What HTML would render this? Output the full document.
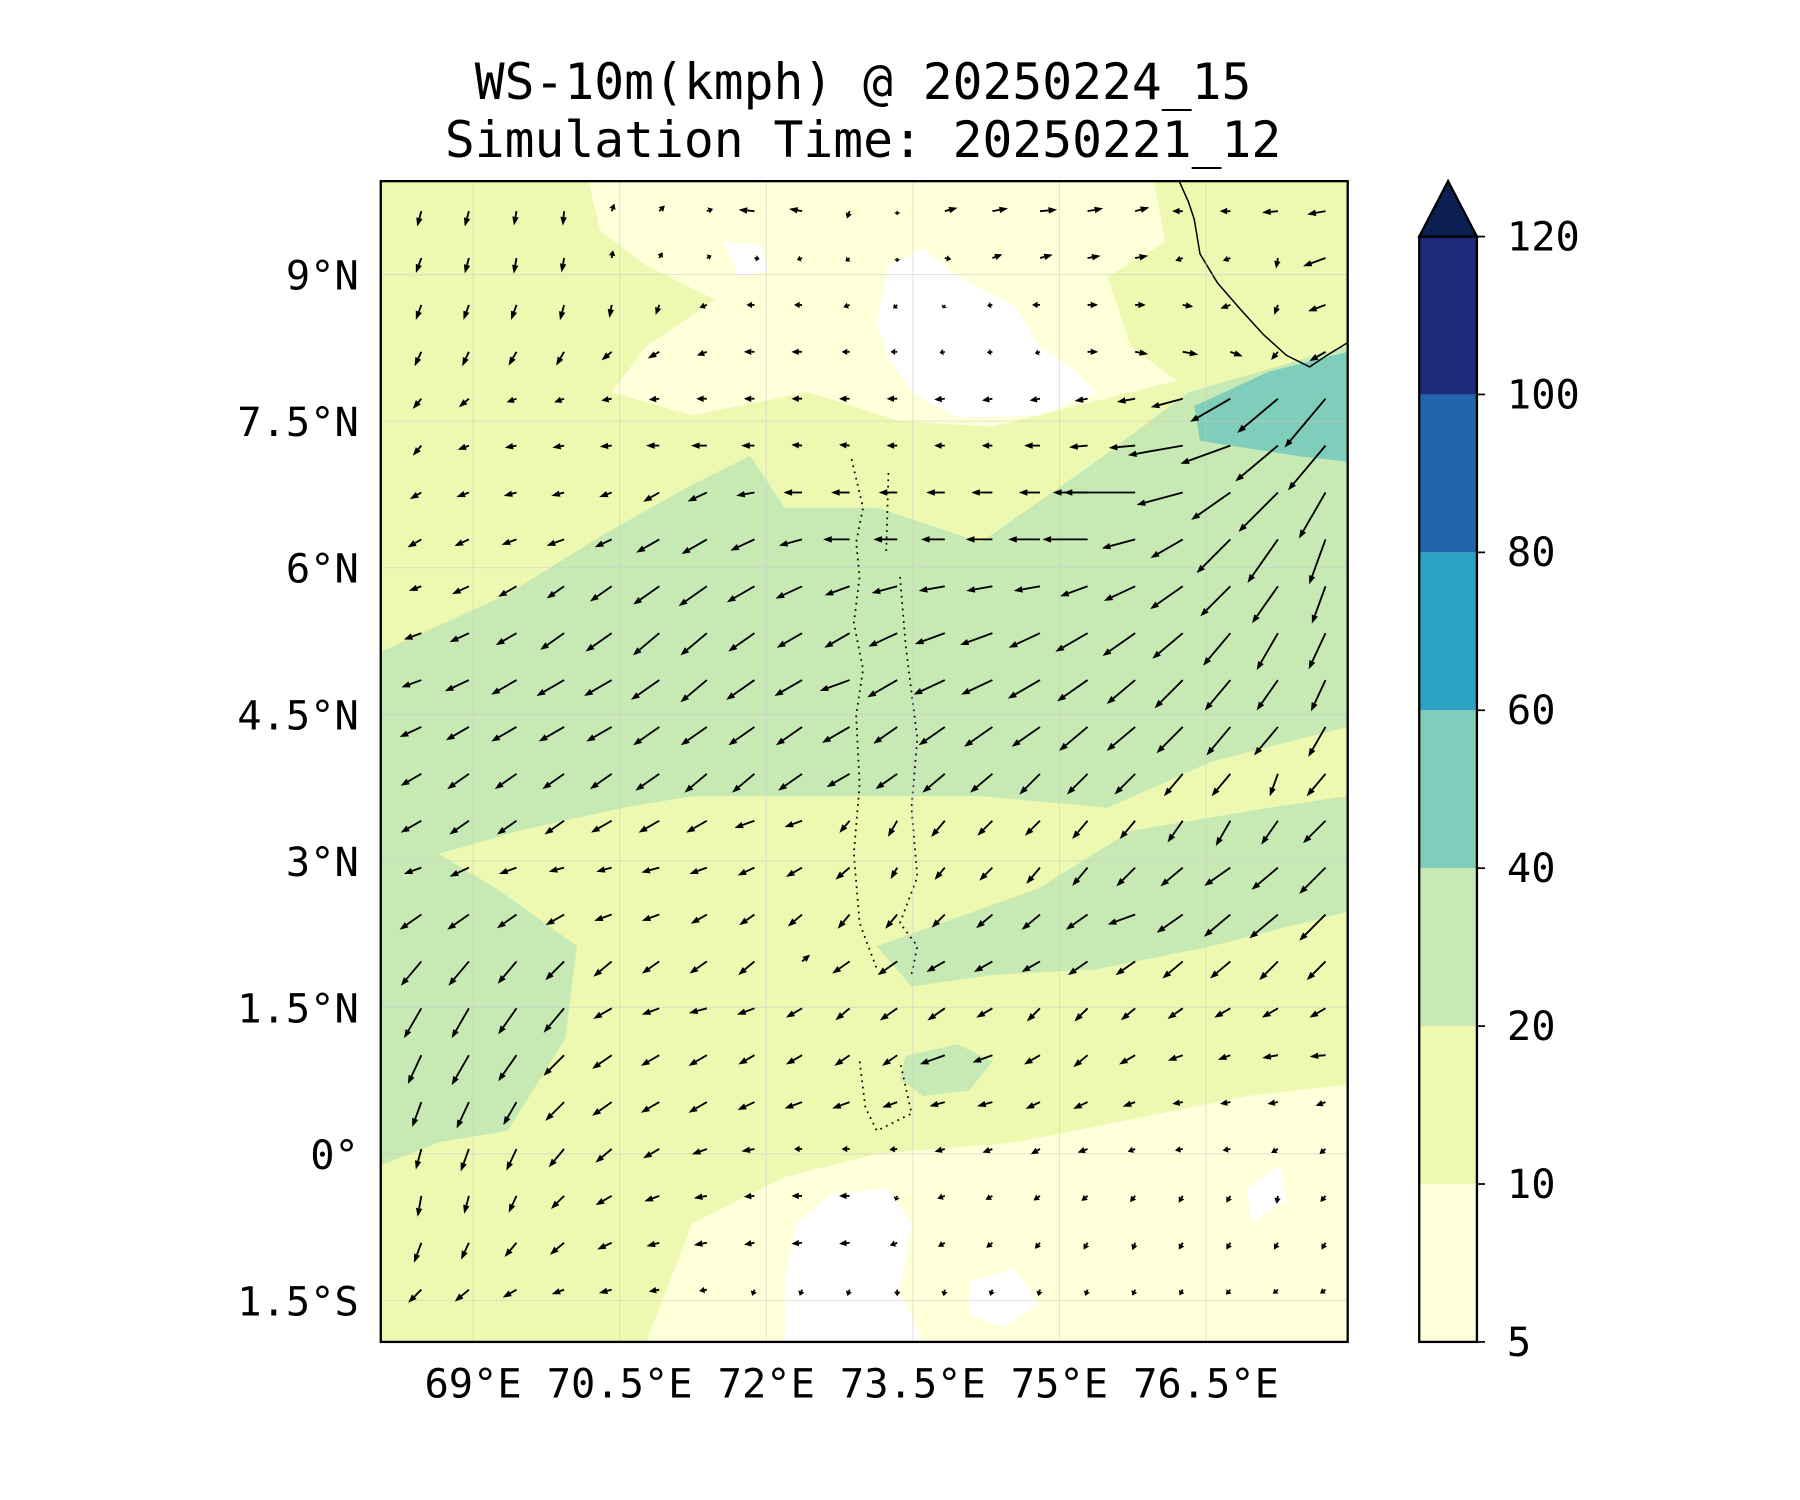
<!DOCTYPE html>
<html><head><meta charset="utf-8"><title>WS-10m</title>
<style>html,body{margin:0;padding:0;background:#fff}svg{display:block}text{font-family:"DejaVu Sans Mono","Liberation Mono",monospace;fill:#000}</style></head>
<body>
<svg id="chart" xmlns="http://www.w3.org/2000/svg" width="1800" height="1500" viewBox="0 0 1560 1300">
<text x="748" y="86" font-size="43" text-anchor="middle">WS-10m(kmph) @ 20250224_15</text>
<text x="748" y="136" font-size="43" text-anchor="middle">Simulation Time: 20250221_12</text>
<defs><clipPath id="clip"><rect x="330" y="157" width="838" height="1006"/></clipPath></defs>
<g clip-path="url(#clip)">
<rect x="330" y="157" width="838" height="1006" fill="#edf8b1"/>
<path fill="#ffffd9" d="M510 157 L1000 157 L1010 210 L960 240 L980 300 L1020 330 L940 350 L860 370 L780 365 L700 340 L600 360 L530 340 L560 300 L620 260 L560 230 L520 200 Z"/>
<path fill="#ffffd9" d="M560 1163 L600 1060 L680 1020 L760 1000 L880 990 L980 970 L1080 950 L1168 940 L1168 1163 Z"/>
<path fill="#fff" d="M770 230 L800 215 L830 240 L880 265 L900 300 L930 320 L950 340 L900 360 L830 362 L790 340 L770 310 L760 280 Z"/>
<path fill="#fff" d="M628 210 L660 212 L665 235 L640 240 Z"/>
<path fill="#fff" d="M690 1060 L720 1035 L770 1030 L790 1060 L780 1120 L800 1163 L680 1163 L680 1110 Z"/>
<path fill="#fff" d="M840 1110 L880 1100 L900 1130 L870 1150 L840 1140 Z"/>
<path fill="#fff" d="M1080 1030 L1110 1010 L1115 1040 L1085 1060 Z"/>
<path fill="#c7e9b4" d="M330 565 L440 515 L520 465 L600 420 L650 395 L680 440 L760 440 L850 470 L950 400 L1030 340 L1168 300 L1168 630 L1050 660 L960 700 L850 690 L760 690 L680 690 L600 690 L540 700 L450 720 L380 740 L430 770 L500 820 L490 900 L440 980 L380 990 L330 1010 Z"/>
<path fill="#c7e9b4" d="M760 820 L900 770 L980 720 L1100 700 L1168 690 L1168 790 L1050 820 L950 840 L860 845 L790 855 Z"/>
<path fill="#c7e9b4" d="M785 915 L830 905 L860 920 L840 945 L800 950 L780 935 Z"/>
<path fill="#7fcdbb" d="M1035 352 L1100 322 L1168 305 L1168 400 L1130 396 L1040 382 Z"/>
<path fill="none" stroke="#000" stroke-width="1.3" d="M1022 157 L1030 175 L1035 190 L1040 220 L1055 245 L1075 268 L1095 290 L1115 308 L1135 318 L1150 308 L1168 297"/>
<path fill="none" stroke="#000" stroke-width="1.5" stroke-dasharray="1.5 4" d="M738 398 L748 440 L742 470 L745 500 L740 540 L748 580 L742 620 L745 680 L740 740 L745 800 L760 840 M770 410 L768 480 M780 500 L785 560 L795 640 L790 700 L795 760 L780 800 L795 820 L790 845 M745 920 L750 960 L760 980 L790 965 L780 920"/>
<g id="grid"></g>
<g id="arrows"></g>
</g>
<rect x="330" y="157" width="838" height="1006" fill="none" stroke="#000" stroke-width="2"/>
<g id="xticks"></g>
<g id="yticks"></g>
<g id="cbar"></g>
</svg>
<script>
const lonTicks=[69,70.5,72,73.5,75,76.5];
const lonLabels=["69°E","70.5°E","72°E","73.5°E","75°E","76.5°E"];
const latTicks=[9,7.5,6,4.5,3,1.5,0,-1.5];
const latLabels=["9°N","7.5°N","6°N","4.5°N","3°N","1.5°N","0°","1.5°S"];
const cbLevels=[5,10,20,40,60,80,100,120];
const cbColors=["#ffffd9","#edf8b1","#c7e9b4","#7fcdbb","#2ca2c4","#2166ac","#1d2a7c"];
const gridLon0=68.47, gridDLon=0.487, gridLat0=9.65, gridDLat=-0.48;
const dirRows=[
[255,255,260,265,70,45,20,175,170,250,270,15,10,5,10,15,180,180,185,190],
[250,255,260,260,80,60,30,350,200,220,270,350,20,15,10,10,200,200,260,200],
[250,250,250,255,260,250,200,180,180,200,220,240,190,180,0,0,350,200,250,200],
[245,245,240,240,220,210,200,180,180,180,180,190,190,200,0,350,350,340,230,210],
[230,220,200,200,190,185,180,180,180,180,180,185,190,190,190,190,195,210,220,230],
[230,200,190,190,185,180,180,180,175,175,180,180,180,180,185,185,190,200,220,230],
[210,200,195,195,200,210,205,190,180,180,180,180,180,180,180,180,195,215,225,240],
[210,205,200,200,205,210,210,205,195,180,180,180,180,180,180,195,210,225,235,250],
[200,205,210,215,215,215,215,210,205,200,195,190,190,190,200,205,215,225,235,250],
[200,205,210,215,215,220,220,215,210,210,205,200,200,205,210,215,220,230,240,245],
[200,205,210,210,210,215,220,215,210,200,210,205,205,210,215,220,225,230,235,245],
[205,210,210,210,210,215,215,215,215,210,215,215,215,215,220,220,225,230,230,240],
[210,215,215,215,215,215,220,220,215,210,215,220,220,225,225,225,230,230,250,230],
[210,215,215,215,210,210,210,200,200,230,240,230,225,225,230,230,235,240,235,225],
[200,205,200,195,195,195,200,205,210,220,240,230,225,230,230,225,220,215,220,225],
[215,215,215,210,200,200,210,215,220,230,230,225,220,220,215,200,215,220,220,225],
[230,230,230,225,220,215,215,220,40,215,215,210,210,210,215,215,220,220,225,225],
[240,240,235,230,210,200,195,200,210,220,215,215,210,225,225,220,215,210,210,210],
[245,240,235,225,215,210,210,210,210,215,215,200,200,210,220,210,200,200,190,185],
[250,245,240,225,215,210,210,205,200,200,200,195,195,205,205,200,190,190,190,200],
[255,250,245,230,220,210,200,190,180,180,185,195,200,210,200,200,190,190,210,220],
[260,255,245,225,210,200,190,185,180,180,250,200,210,215,220,230,240,240,260,230],
[250,245,230,220,205,195,190,190,185,185,200,210,220,230,240,250,240,240,240,240],
[225,220,210,200,195,190,190,250,250,250,270,260,250,255,250,245,240,230,220,215]];
const spdRows=[
[12,12,11,11,6,6,5,12,10,6,3,10,12,13,12,11,8,8,12,14],
[12,12,12,11,6,5,4,4,4,4,3,5,8,10,10,10,6,6,8,18],
[12,12,12,12,10,8,6,6,6,5,4,3,4,6,8,8,8,8,8,14],
[12,12,12,12,10,10,8,8,8,6,5,4,4,4,8,10,12,10,8,14],
[10,10,8,8,8,8,8,8,8,8,8,8,8,8,10,14,25,35,40,48],
[10,9,9,9,9,10,12,10,8,8,8,8,8,12,14,20,42,40,42,44],
[10,10,10,10,10,14,16,14,14,14,14,14,16,16,18,62,36,36,42,40],
[12,12,12,14,14,20,22,20,18,20,18,18,20,24,34,26,28,36,40,36],
[10,14,16,16,20,24,26,24,22,20,20,20,20,20,22,26,30,32,34,30],
[14,16,18,22,24,26,26,24,22,22,24,24,26,26,28,30,30,32,32,30],
[16,20,22,24,24,26,26,26,24,24,26,26,26,28,28,28,30,30,28,26],
[18,20,22,22,22,24,24,24,24,24,22,24,26,26,28,28,28,28,28,26],
[18,20,20,20,20,22,22,22,22,20,20,22,22,22,22,22,22,22,18,22],
[18,18,18,18,18,18,18,16,14,12,14,16,16,16,18,18,20,22,22,24],
[14,16,14,12,12,14,14,14,14,14,10,12,14,16,18,20,22,24,26,28],
[20,20,18,16,14,14,14,14,14,14,14,14,16,18,20,22,24,26,28,28],
[24,24,22,20,18,16,16,16,8,16,18,16,16,16,18,18,20,20,20,20],
[26,26,24,24,16,14,14,14,14,14,16,16,14,14,14,14,14,14,14,14],
[24,26,24,22,18,16,16,14,14,14,14,20,16,14,14,14,12,10,12,12],
[20,22,20,20,18,16,16,14,14,14,12,12,12,12,12,10,8,8,8,8],
[16,18,18,18,16,14,12,10,6,6,6,8,8,8,8,6,6,6,6,6],
[16,14,14,14,14,12,10,8,8,8,4,6,6,6,6,6,6,6,6,6],
[16,14,14,14,12,10,10,8,8,8,6,6,6,6,6,6,6,6,6,6],
[14,14,12,10,10,8,6,5,5,5,5,5,5,5,5,5,5,5,5,5]];

const NS="http://www.w3.org/2000/svg";
const LON0=68.055,LON1=77.95,LAT0=9.957,LAT1=-1.925,X0=330,X1=1168,Y0=157,Y1=1163;
function xOf(lon){return X0+(lon-LON0)/(LON1-LON0)*(X1-X0);}
function yOf(lat){return Y0+(lat-LAT0)/(LAT1-LAT0)*(Y1-Y0);}
const CB_Y0=205,CB_Y1=1163;
function cbY(i){return CB_Y1-i*(CB_Y1-CB_Y0)/(cbLevels.length-1);}
function mk(tag,attrs,parent){const e=document.createElementNS(NS,tag);for(const k in attrs)e.setAttribute(k,attrs[k]);parent.appendChild(e);return e;}

const grid=document.getElementById('grid');
lonTicks.forEach(l=>{const e=mk('line',{x1:xOf(l),x2:xOf(l),y1:Y0,y2:Y1,stroke:'#ccc','stroke-width':0.8,'stroke-opacity':0.6},grid);

});
latTicks.forEach(l=>{const e=mk('line',{x1:X0,x2:X1,y1:yOf(l),y2:yOf(l),stroke:'#ccc','stroke-width':0.8,'stroke-opacity':0.6},grid);

});

const xt=document.getElementById('xticks');
lonTicks.forEach((l,i)=>{const t=mk('text',{x:xOf(l),y:1211,'font-size':35,'text-anchor':'middle'},xt);t.textContent=lonLabels[i];

});
const yt=document.getElementById('yticks');
latTicks.forEach((l,i)=>{const t=mk('text',{x:311,y:yOf(l)+13,'font-size':35,'text-anchor':'end'},yt);t.textContent=latLabels[i];

});

const ar=document.getElementById('arrows');
dirRows.forEach((row,r)=>{row.forEach((a,c)=>{
 const s=spdRows[r][c];
 const x=xOf(gridLon0+c*gridDLon), y=yOf(gridLat0+r*gridDLat);
 const L=s*1.15, rad=a*Math.PI/180, ux=Math.cos(rad), uy=-Math.sin(rad);
 const hx=x+ux*L, hy=y+uy*L, hl=Math.min(7.5,L*0.7), hw=2.8;
 const bx=hx-ux*hl, by=hy-uy*hl, px=-uy, py=ux;
 const g=mk('g',{},ar);
 
 
 mk('line',{x1:x,y1:y,x2:bx,y2:by,stroke:'#000','stroke-width':1.6},g);
 mk('polygon',{points:`${hx},${hy} ${bx+px*hw},${by+py*hw} ${bx-px*hw},${by-py*hw}`,fill:'#000'},g);
});});

const cb=document.getElementById('cbar');
cbColors.forEach((col,i)=>{const e=mk('rect',{x:1230,y:cbY(i+1),width:50,height:cbY(i)-cbY(i+1),fill:col},cb);

});
const tri=mk('polygon',{points:`1230,${CB_Y0} 1280,${CB_Y0} 1255,157`,fill:'#0b1f52',stroke:'#000','stroke-width':2},cb);


mk('rect',{x:1230,y:CB_Y0,width:50,height:CB_Y1-CB_Y0,fill:'none',stroke:'#000','stroke-width':2},cb);
cbLevels.forEach((v,i)=>{const y=cbY(i);
 mk('line',{x1:1280,x2:1287,y1:y,y2:y,stroke:'#000','stroke-width':1.5},cb);
 const t=mk('text',{x:1306,y:y+12,'font-size':35},cb);t.textContent=v;
 
 });
</script>
</body></html>
